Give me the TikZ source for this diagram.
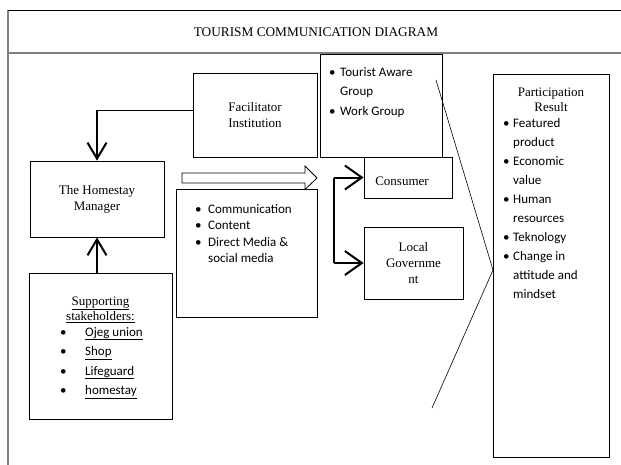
\documentclass[tikz,border=0pt]{standalone}
\usepackage{fontspec}
\setmainfont{Liberation Serif}
\newfontfamily\carl{Carlito}
\usetikzlibrary{arrows.meta}
\newcommand\bul[1]{\makebox[#1][l]{\textbullet}}
\tikzset{
  box/.style={draw, line width=0.8pt, inner sep=0pt, anchor=center, align=center,
    font=\fontsize{13}{16}\selectfont},
  txt/.style={inner sep=0pt, anchor=base west},
  ctxt/.style={inner sep=0pt, anchor=base},
  arr/.style={line width=2pt, -{Straight Barb[length=16pt,width=19pt]}},
  arrh/.style={line width=2pt, -{Straight Barb[length=17pt,width=24pt]}},
  frameline/.style={line width=1.2pt, gray},
}
\begin{document}
\begin{tikzpicture}[x=1pt,y=-1pt]
\useasboundingbox (0,0) rectangle (621,464);
\fill[white] (0,0) rectangle (621,464);
\clip (0,0) rectangle (621,464);
% frame
\draw[frameline] (8,53) -- (630,53);
\draw[frameline] (8,10) -- (8,470);
\draw[line width=0.8pt] (8,10) -- (630,10);
\node[ctxt, font=\fontsize{13.3}{16}\selectfont] (title) at (316,36) {TOURISM COMMUNICATION DIAGRAM};

% boxes
\node[box, minimum width=124pt, minimum height=84pt] (fac) at (255,115) {Facilitator\\Institution};
\node[box, minimum width=122pt, minimum height=103pt] (tour) at (381.5,105.5) {};
\node[box, minimum width=88pt, minimum height=41pt] (cons) at (408,177.5) {};
\node[ctxt, font=\fontsize{13}{16}\selectfont] (constext) at (402,185) {Consumer};
\node[box, minimum width=99pt, minimum height=72pt] (gov) at (413.5,263) {Local\\Governme\\nt};
\node[box, minimum width=141pt, minimum height=128pt] (comm) at (246.5,253) {};
\node[box, minimum width=134pt, minimum height=76pt] (home) at (97,199) {The Homestay\\Manager};
\node[box, minimum width=143pt, minimum height=146pt] (sup) at (100.5,346) {};
\node[box, minimum width=116pt, minimum height=383pt] (part) at (551,265.5) {};

% texts in boxes
\node[txt, font=\carl\fontsize{13}{19.5}\selectfont] (tlist) at (329,76)
  {\begin{tabular}[t]{@{}l@{}}\bul{11pt}Tourist Aware\\\hspace*{11pt}Group\\\bul{11pt}Work Group\end{tabular}};
\node[txt, font=\carl\fontsize{13}{16.5}\selectfont] (clist) at (195,213)
  {\begin{tabular}[t]{@{}l@{}}\bul{13pt}Communication\\\bul{13pt}Content\\\bul{13pt}Direct Media \&\\\hspace*{13pt}social media\end{tabular}};
\node[ctxt, font=\fontsize{13}{15}\selectfont] (phead) at (551,96)
  {\begin{tabular}[t]{@{}c@{}}Participation\\Result\end{tabular}};
\node[txt, font=\carl\fontsize{13}{19.1}\selectfont] (plist) at (503,127)
  {\begin{tabular}[t]{@{}l@{}}\bul{10pt}Featured\\\hspace*{10pt}product\\\bul{10pt}Economic\\\hspace*{10pt}value\\\bul{10pt}Human\\\hspace*{10pt}resources\\\bul{10pt}Teknology\\\bul{10pt}Change in\\\hspace*{10pt}attitude and\\\hspace*{10pt}mindset\end{tabular}};
\node[ctxt, font=\fontsize{13}{15}\selectfont] (shead) at (100.5,305)
  {\begin{tabular}[t]{@{}c@{}}\underline{Supporting}\\\underline{stakeholders:}\end{tabular}};
\node[txt, font=\carl\fontsize{13}{19.5}\selectfont] (slist) at (60,336)
  {\begin{tabular}[t]{@{}l@{}}\bul{25pt}\underline{Ojeg union}\\\bul{25pt}\underline{Shop}\\\bul{25pt}\underline{Lifeguard}\\\bul{25pt}\underline{homestay}\end{tabular}};

% hollow block arrow
\draw[line width=0.8pt] (182,173) -- (305,173) -- (305,166) -- (317,178) -- (305,189.5) -- (305,183) -- (182,183) -- cycle;

% connectors
\coordinate (fk) at ([yshift=5pt]fac.west);
\draw[line width=1pt] (fk) -- (home.north |- fk);
\draw[arr] (home.north |- fk) -- (home.north);
\draw[arr] (home.south |- sup.north) -- (home.south);

\coordinate (bx) at (334,0);
\draw[line width=2pt] (bx |- cons.west) -- (bx |- gov.west);
\draw[arrh] (bx |- cons.west) -- (cons.west);
\draw[arrh] (bx |- gov.west) -- (gov.west);

% diagonal line
\draw[line width=0.6pt] (436,80) -- (493,270) -- (432,408);
\end{tikzpicture}
\end{document}
